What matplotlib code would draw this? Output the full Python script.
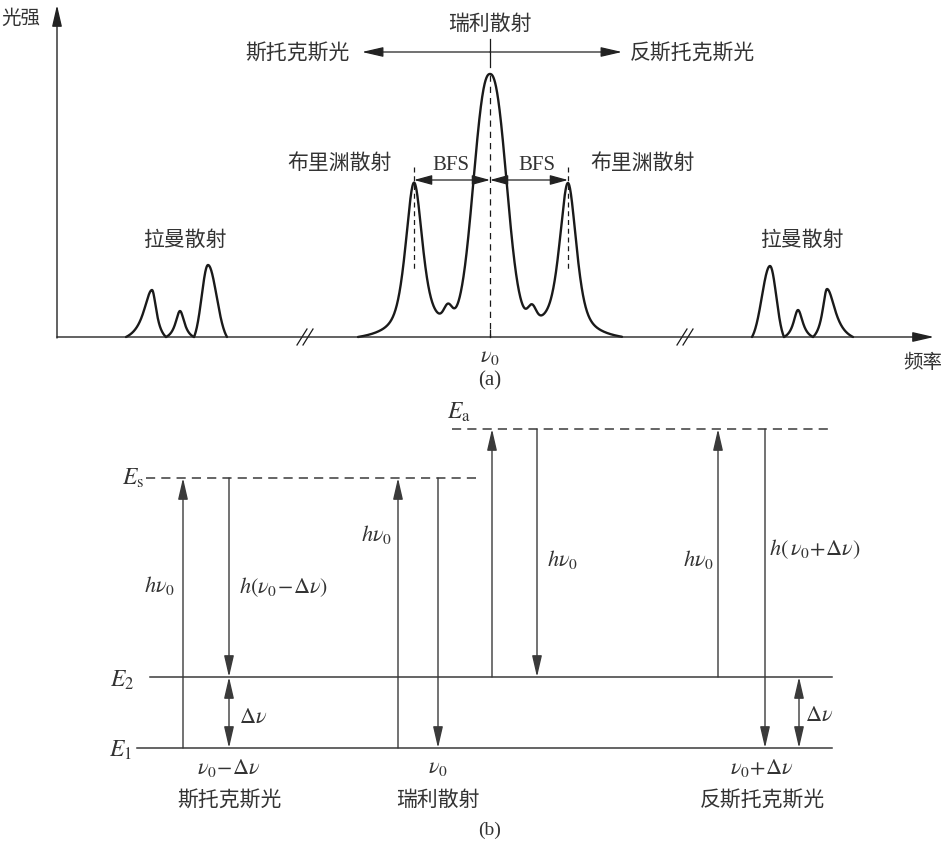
import numpy as np
import matplotlib.pyplot as plt

plt.rcParams['mathtext.fontset'] = 'stix'
cjk = ['Noto Sans CJK SC', 'DejaVu Sans']
serif = ['Liberation Serif', 'DejaVu Serif']

# ---------- (a) spectrum, drawn in figure pixel units, baseline at y=338
spec_base = 338
axis_x0, axis_top, axis_x1 = 57, 6, 934

# raman lines (each peak sits on the baseline between its feet)
raman_center = [152, 180, 208, 770, 798, 827]
raman_height = [47, 26, 72, 71, 27, 48]
raman_left = [126, 166, 194, 752, 784, 813]
raman_right = [166, 194, 227, 784, 813, 853]
raman_shape = ['cusp', 'cusp', 'round', 'round', 'cusp', 'cusp']

# rayleigh + brillouin group
rayleigh_center = 490
rayleigh_height = 246
rayleigh_width = 21
brillouin_center = [414, 568]
brillouin_height = 150
brillouin_gamma = 10.0
brillouin_sigma = 8.5
bump_center = [448, 532]
bump_height = 14
pedestal_height = 19
central_feet = [358, 622]

# ---------- (b) energy levels
level_name = [r'$E_1$', r'$E_2$', r'$E_\mathrm{s}$', r'$E_\mathrm{a}$']
level_y = [749, 678, 479, 430]
level_x0 = [137, 150, 146, 452]
level_x1 = [832, 832, 482, 832]
level_dashed = [False, False, True, True]

# transitions: x, from level, to level, arrow kind
trans_x = [183, 229, 229, 398, 438, 492, 537, 718, 765, 799]
trans_from = [0, 2, 1, 0, 2, 1, 3, 1, 3, 0]
trans_to = [2, 1, 0, 2, 0, 3, 1, 3, 0, 1]
trans_kind = ['-|>', '-|>', '<|-|>', '-|>', '-|>', '-|>', '-|>', '-|>', '-|>', '<|-|>']

trans_label = [r'$h\nu_0$', r'$h(\nu_0\!-\!\Delta\nu)$', r'$h\nu_0$', r'$h\nu_0$',
               r'$h\nu_0$', r'$h(\,\nu_0\!+\!\Delta\nu)$', r'$\Delta\nu$', r'$\Delta\nu$']
trans_label_xy = [(159, 586), (283, 587), (376, 535), (562, 560),
                  (698, 560), (815, 549), (253, 717), (819, 715)]

bottom_freq = [r'$\nu_0\!-\!\Delta\nu$', r'$\nu_0$', r'$\nu_0\!+\!\Delta\nu$']
bottom_name = ['斯托克斯光', '瑞利散射', '反斯托克斯光']
bottom_x = [229, 438, 762]


def peak_profile(x, lo, c, hi, h, kind):
    t = np.where(x < c, (c - x) / (c - lo), (x - c) / (hi - c))
    if kind == 'cusp':
        a = 0.4
        f = 1 / (1 + (t / a) ** 2)
        e = 1 / (1 + (1 / a) ** 2)
    else:
        s = 0.45
        f = np.exp(-t ** 2 / (2 * s ** 2))
        e = np.exp(-1 / (2 * s ** 2))
    return h * (f - e) / (1 - e)


def central_curve(x):
    y = rayleigh_height * np.exp(-(np.abs(x - rayleigh_center) / rayleigh_width) ** 2.35)
    for c in brillouin_center:
        lor = brillouin_gamma ** 2 / ((x - c) ** 2 + brillouin_gamma ** 2)
        gau = np.exp(-(x - c) ** 2 / (2 * brillouin_sigma ** 2))
        y = y + brillouin_height * (0.6 * lor + 0.4 * gau)
    for c in bump_center:
        y = y + bump_height * np.exp(-(x - c) ** 2 / (2 * 4.0 ** 2))
    y = y + pedestal_height * np.exp(-(x - rayleigh_center) ** 2 / (2 * 62.0 ** 2))
    return y


fig = plt.figure(figsize=(9.48, 8.45), dpi=100)
ax = fig.add_axes([0, 0, 1, 1])
ax.set_xlim(0, 948)
ax.set_ylim(845, 0)
ax.axis('off')

ink = '#1a1a1a'
txt = '#333333'
curve_kw = dict(color=ink, lw=1.7, solid_capstyle='round')


def arrow(x0, y0, x1, y1, style='-|>', lw=0.9, hl=1.1, hw=0.3, col='#222222'):
    ax.annotate('', xy=(x1, y1), xytext=(x0, y0),
                arrowprops=dict(arrowstyle=f'{style},head_length={hl},head_width={hw}',
                                lw=lw, color=col, shrinkA=0, shrinkB=0,
                                mutation_scale=10))


# axes of the spectrum
arrow(axis_x0, spec_base + 1, axis_x0, axis_top, lw=1.0, hl=1.3, hw=0.3)
arrow(axis_x0, spec_base, axis_x1, spec_base, lw=1.0, hl=1.3, hw=0.3)
ax.text(21, 18, '光强', family=cjk, fontsize=14, color=txt, ha='center', va='center')
ax.text(903, 363, '频率', family=cjk, fontsize=14, color=txt, ha='left', va='center')

# axis breaks
for bx in [305, 685]:
    for dx in [-3, 3]:
        ax.plot([bx + dx - 5, bx + dx + 5], [spec_base + 8, spec_base - 8], color=ink, lw=0.9)

# raman peaks
for c, h, lo, hi, kind in zip(raman_center, raman_height, raman_left, raman_right, raman_shape):
    xs = np.linspace(lo, hi, 200)
    ax.plot(xs, spec_base - peak_profile(xs, lo, c, hi, h, kind), **curve_kw)

# rayleigh / brillouin
xs = np.linspace(central_feet[0], central_feet[1], 1200)
ys = central_curve(xs) - central_curve(np.array([float(central_feet[0])]))[0]
ys = np.clip(ys, 0, None)
ax.plot(xs, spec_base - ys, **curve_kw)

# centre line and shift arrows
ax.plot([rayleigh_center] * 2, [40, 68], color=ink, lw=0.9)
ax.plot([rayleigh_center] * 2, [76, spec_base], color=ink, lw=0.9, ls=(0, (5, 4)))
ax.plot([rayleigh_center] * 2, [spec_base, spec_base - 7], color=ink, lw=0.9)
arrow(rayleigh_center, 53, 362, 53, hl=1.3, hw=0.3)
arrow(rayleigh_center, 53, 622, 53, hl=1.3, hw=0.3)
ax.text(rayleigh_center, 24, '瑞利散射', family=cjk, fontsize=15, color=txt, ha='center', va='center')
ax.text(350, 53, '斯托克斯光', family=cjk, fontsize=15, color=txt, ha='right', va='center')
ax.text(630, 53, '反斯托克斯光', family=cjk, fontsize=15, color=txt, ha='left', va='center')

for c in brillouin_center:
    ax.plot([c, c], [168, 270], color=ink, lw=0.9, ls=(0, (4, 3)))
    arrow(rayleigh_center, 181, c, 181, style='<|-|>', hl=1.1, hw=0.3)
ax.text(451, 166, 'BFS', family=serif, fontsize=15, color=txt, ha='center', va='center')
ax.text(537, 166, 'BFS', family=serif, fontsize=15, color=txt, ha='center', va='center')
ax.text(340, 163, '布里渊散射', family=cjk, fontsize=15, color=txt, ha='center', va='center')
ax.text(643, 163, '布里渊散射', family=cjk, fontsize=15, color=txt, ha='center', va='center')
ax.text(185, 240, '拉曼散射', family=cjk, fontsize=15, color=txt, ha='center', va='center')
ax.text(802, 240, '拉曼散射', family=cjk, fontsize=15, color=txt, ha='center', va='center')
ax.text(rayleigh_center, 357, r'$\nu_0$', fontsize=16, color=txt, ha='center', va='center')
ax.text(rayleigh_center, 381, '(a)', family=serif, fontsize=15, color=txt, ha='center', va='center')

# ---------- (b)
lvl_col = '#3a3a3a'
for name, y, x0, x1, dashed in zip(level_name, level_y, level_x0, level_x1, level_dashed):
    ax.plot([x0, x1], [y, y], color=lvl_col, lw=1.1, ls=(0, (6, 4)) if dashed else '-')
label_pos = {0: (121, 750), 1: (122, 680), 2: (133, 478), 3: (459, 412)}
for i, (lx, ly) in label_pos.items():
    ax.text(lx, ly, level_name[i], fontsize=17, color=txt, ha='center', va='center')

for x, a, b, kind in zip(trans_x, trans_from, trans_to, trans_kind):
    arrow(x, level_y[a], x, level_y[b], style=kind, lw=1.0, hl=1.3, hw=0.3, col=lvl_col)

for lab, (lx, ly) in zip(trans_label, trans_label_xy):
    ax.text(lx, ly, lab, fontsize=16, color=txt, ha='center', va='center')

for f, n, x in zip(bottom_freq, bottom_name, bottom_x):
    ax.text(x, 768, f, fontsize=16, color=txt, ha='center', va='center')
    ax.text(x, 800, n, family=cjk, fontsize=15, color=txt, ha='center', va='center')
ax.text(490, 830, '(b)', family=serif, fontsize=14, color=txt, ha='center', va='center')

fig.savefig('out.png', dpi=100)
